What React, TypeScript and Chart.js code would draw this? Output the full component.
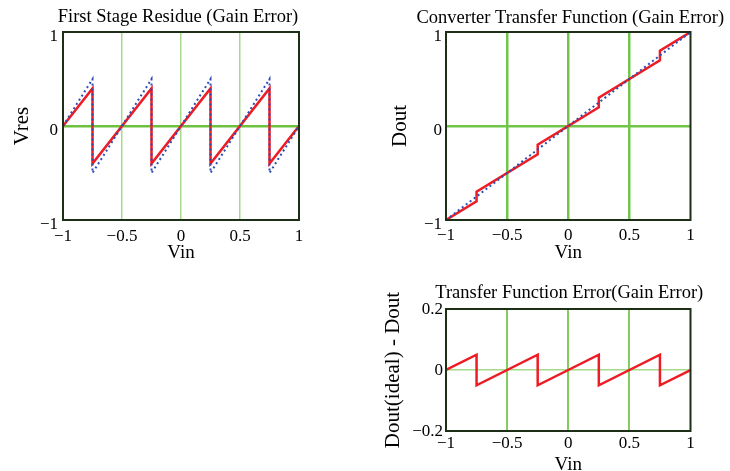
import React, { useEffect, useRef } from "react";
import { Chart, registerables } from "chart.js";

Chart.register(...registerables);

// ---- data ----
const vin = [-1, -0.75, -0.75, -0.25, -0.25, 0.25, 0.25, 0.75, 0.75, 1];
const residueIdeal = [0, 0.5, -0.5, 0.5, -0.5, 0.5, -0.5, 0.5, -0.5, 0];
const residueGainErr = [0, 0.4, -0.4, 0.4, -0.4, 0.4, -0.4, 0.4, -0.4, 0];
const vinIdealLine = [-1, 1];
const doutIdeal = [-1, 1];
const doutGainErr = [-1, -0.8, -0.7, -0.3, -0.2, 0.2, 0.3, 0.7, 0.8, 1];
const doutError = [0, 0.05, -0.05, 0.05, -0.05, 0.05, -0.05, 0.05, -0.05, 0];

const vinTicks = [-1, -0.5, 0, 0.5, 1];
const unitTicks = [-1, 0, 1];
const errTicks = [-0.2, 0, 0.2];

const SERIF = '"Liberation Serif", "Times New Roman", serif';
const RED = "#ee1c24";
const BLUE = "#2c4db5";

const fmt = (v: number) => (v < 0 ? "\u2212" + Math.abs(v) : String(v));
const pts = (xs: number[], ys: number[]) => xs.map((x, i) => ({ x, y: ys[i] }));

const framePlugin = {
  id: "frame",
  afterDraw(chart: any) {
    const { ctx, chartArea: a } = chart;
    ctx.save();
    ctx.strokeStyle = "#1d2f17";
    ctx.lineWidth = 2;
    ctx.strokeRect(a.left, a.top, a.right - a.left, a.bottom - a.top);
    ctx.restore();
  },
};

// Title drawn centred over the plot area, without width squeezing
const plotTitlePlugin = {
  id: "plotTitle",
  afterDraw(chart: any, _args: any, opts: any) {
    if (!opts || !opts.text) return;
    const { ctx, chartArea: a } = chart;
    ctx.save();
    ctx.fillStyle = "#000";
    ctx.font = `${opts.size}px ${SERIF}`;
    ctx.textAlign = "center";
    ctx.textBaseline = "middle";
    ctx.fillText(opts.text, (a.left + a.right) / 2 + (opts.dx || 0), opts.y);
    ctx.restore();
  },
};

type P = {
  title: string;
  titleSize: number;
  titleY: number;
  titleDx: number;
  datasets: any[];
  padRight: number;
  padTop: number;
  yWidth: number;
  xHeight: number;
  yTitle: string;
  yTitlePad: number;
  yTickPad: number;
  yLabelOffset: number;
  xTickPad: number;
  xTitlePad: number;
  yMin: number;
  yMax: number;
  yTicks: number[];
  xGrid: (v: number) => [string, number];
  yGrid: (v: number) => [string, number];
};

function makeConfig(p: P): any {
  return {
    type: "line",
    data: { datasets: p.datasets },
    options: {
      animation: false,
      responsive: false,
      maintainAspectRatio: false,
      layout: { padding: { left: 0, right: p.padRight, top: p.padTop, bottom: 0 } },
      elements: { line: { tension: 0 }, point: { radius: 0 } },
      plugins: {
        legend: { display: false },
        tooltip: { enabled: false },
        title: { display: false },
        plotTitle: { text: p.title, size: p.titleSize, y: p.titleY, dx: p.titleDx },
      },
      scales: {
        x: {
          type: "linear",
          min: -1,
          max: 1,
          afterBuildTicks: (s: any) => {
            s.ticks = vinTicks.map((value) => ({ value }));
          },
          afterFit: (s: any) => {
            s.height = p.xHeight;
          },
          border: { display: false },
          grid: {
            drawTicks: false,
            color: (c: any) => p.xGrid(c.tick ? c.tick.value : 99)[0],
            lineWidth: (c: any) => p.xGrid(c.tick ? c.tick.value : 99)[1],
          },
          ticks: {
            padding: p.xTickPad,
            color: "#000",
            font: { family: SERIF, size: 17 },
            maxRotation: 0,
            autoSkip: false,
            callback: (v: any) => fmt(Number(v)),
          },
          title: {
            display: true,
            text: "Vin",
            color: "#000",
            font: { family: SERIF, size: 19, lineHeight: 1.2 },
            padding: { top: 0, bottom: p.xTitlePad },
          },
        },
        y: {
          type: "linear",
          min: p.yMin,
          max: p.yMax,
          afterBuildTicks: (s: any) => {
            s.ticks = p.yTicks.map((value) => ({ value }));
          },
          afterFit: (s: any) => {
            s.width = p.yWidth;
          },
          border: { display: false },
          grid: {
            drawTicks: false,
            color: (c: any) => p.yGrid(c.tick ? c.tick.value : 99)[0],
            lineWidth: (c: any) => p.yGrid(c.tick ? c.tick.value : 99)[1],
          },
          ticks: {
            padding: p.yTickPad,
            color: "#000",
            labelOffset: p.yLabelOffset,
            font: { family: SERIF, size: 17 },
            autoSkip: false,
            callback: (v: any) => fmt(Number(v)),
          },
          title: {
            display: true,
            text: p.yTitle,
            color: "#000",
            font: { family: SERIF, size: 21, lineHeight: 1.2 },
            padding: { top: p.yTitlePad, bottom: 0 },
          },
        },
      },
    },
    plugins: [framePlugin, plotTitlePlugin],
  };
}

const NONE = "rgba(0,0,0,0)";
const inner = (v: number, lim: number) => Math.abs(v) < lim - 1e-9;

const cfg1 = makeConfig({
  title: "First Stage Residue (Gain Error)",
  titleSize: 18.5,
  titleY: 17.5,
  titleDx: -3,
  datasets: [
    { data: pts(vin, residueIdeal), borderColor: BLUE, borderWidth: 2, borderDash: [2, 3], order: 0, pointRadius: 0 },
    { data: pts(vin, residueGainErr), borderColor: RED, borderWidth: 2.5, order: 1, pointRadius: 0 },
  ],
  padRight: 21,
  padTop: 32,
  yWidth: 63,
  xHeight: 45,
  yTitle: "Vres",
  yTitlePad: 10,
  yTickPad: 5,
  yLabelOffset: 5,
  xTickPad: 6,
  xTitlePad: 1,
  yMin: -1,
  yMax: 1,
  yTicks: unitTicks,
  xGrid: (v) => (inner(v, 1) ? ["#a6da8a", 1.5] : [NONE, 0]),
  yGrid: (v) => (v === 0 ? ["#6cc23e", 2.5] : [NONE, 0]),
});

const cfg2 = makeConfig({
  title: "Converter Transfer Function (Gain Error)",
  titleSize: 18.5,
  titleY: 18,
  titleDx: 2,
  datasets: [
    { data: pts(vinIdealLine, doutIdeal), borderColor: BLUE, borderWidth: 2, borderDash: [2, 3], order: 0, pointRadius: 0 },
    { data: pts(vin, doutGainErr), borderColor: RED, borderWidth: 2.5, order: 1, pointRadius: 0 },
  ],
  padRight: 39.5,
  padTop: 32,
  yWidth: 66,
  xHeight: 45,
  yTitle: "Dout",
  yTitlePad: 8,
  yTickPad: 4,
  yLabelOffset: 5,
  xTickPad: 5,
  xTitlePad: 1,
  yMin: -1,
  yMax: 1,
  yTicks: unitTicks,
  xGrid: (v) => (inner(v, 1) ? ["#72c44a", 2.5] : [NONE, 0]),
  yGrid: (v) => (v === 0 ? ["#72c44a", 2.5] : [NONE, 0]),
});

const cfg3 = makeConfig({
  title: "Transfer Function Error(Gain Error)",
  titleSize: 18.5,
  titleY: 13.5,
  titleDx: 1,
  datasets: [
    { data: pts(vin, doutError), borderColor: RED, borderWidth: 2.5, order: 0, pointRadius: 0 },
  ],
  padRight: 39.5,
  padTop: 29,
  yWidth: 66,
  xHeight: 49,
  yTitle: "Dout(ideal) - Dout",
  yTitlePad: 1,
  yTickPad: 3,
  yLabelOffset: 1,
  xTickPad: 2,
  xTitlePad: 3.5,
  yMin: -0.2,
  yMax: 0.2,
  yTicks: errTicks,
  xGrid: (v) => (inner(v, 1) ? ["#84cc5c", 2] : [NONE, 0]),
  yGrid: (v) => (v === 0 ? ["#a6da8a", 1.5] : [NONE, 0]),
});

function ChartBox({ config, left, top, width, height }: any) {
  const ref = useRef<HTMLCanvasElement>(null);
  useEffect(() => {
    const chart = new Chart(ref.current as HTMLCanvasElement, config);
    return () => chart.destroy();
  }, [config]);
  return (
    <canvas
      ref={ref}
      width={width}
      height={height}
      style={{ position: "absolute", left, top, width, height }}
    />
  );
}

export default function App() {
  return (
    <div style={{ position: "absolute", left: 0, top: 0, width: 730, height: 471, background: "#fff", overflow: "hidden" }}>
      <ChartBox config={cfg1} left={0} top={0} width={320} height={265} />
      <ChartBox config={cfg2} left={380} top={0} width={350} height={265} />
      <ChartBox config={cfg3} left={380} top={280} width={350} height={200} />
    </div>
  );
}
